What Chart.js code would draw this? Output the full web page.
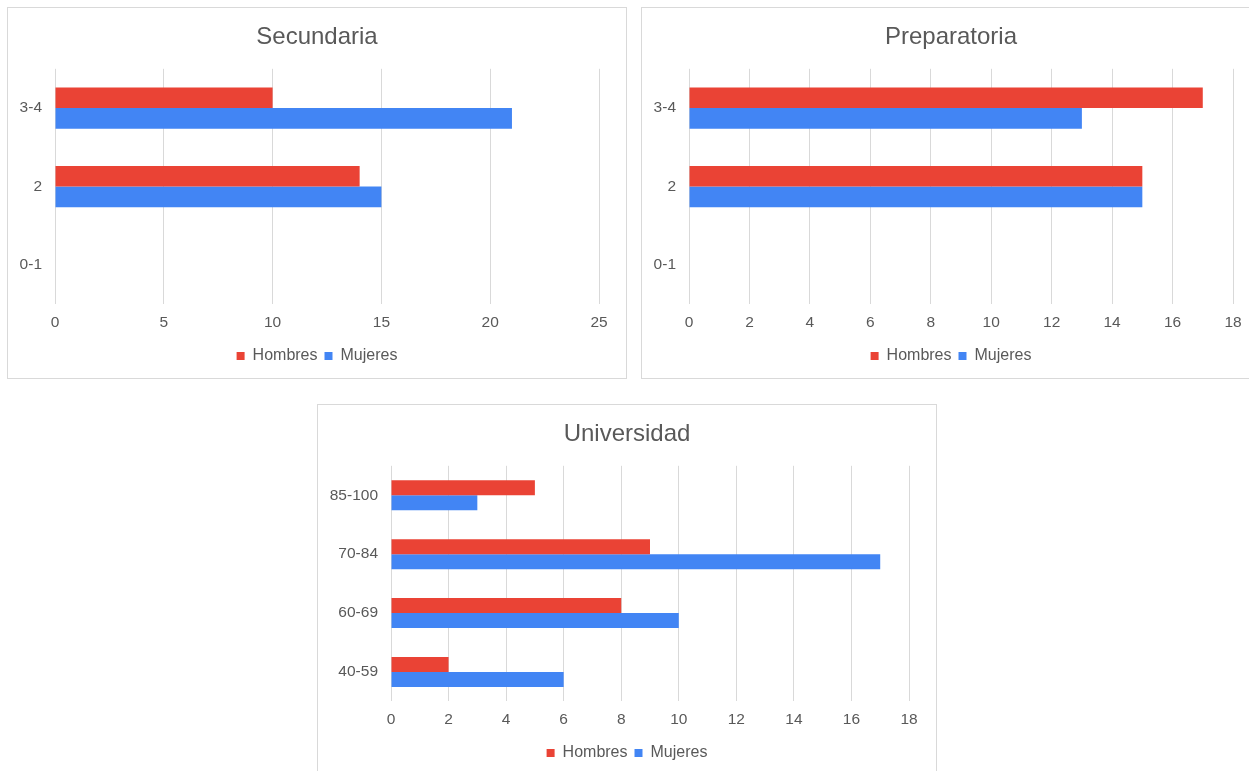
<!DOCTYPE html>
<html>
<head>
<meta charset="utf-8">
<script src="https://cdn.jsdelivr.net/npm/chart.js@4/dist/chart.umd.min.js"></script>
<style>
    html, body { margin: 0; padding: 0; background: #fff; overflow: hidden; }
    body { width: 1249px; height: 771px; position: relative; }
    .panel {
        position: absolute;
        box-sizing: border-box;
        width: 620px;
        height: 372px;
        border: 1px solid #d9d9d9;
        background: #fff;
    }
    .panel canvas { display: block; }
</style>
</head>
<body>
<div class="panel" style="left: 7px; top: 7px;"><canvas id="secundaria"></canvas></div>
<div class="panel" style="left: 641px; top: 7px;"><canvas id="preparatoria"></canvas></div>
<div class="panel" style="left: 317px; top: 404px;"><canvas id="universidad"></canvas></div>
<script>
const seriesNames = ['Hombres', 'Mujeres'];

const secundariaLabels = ['3-4', '2', '0-1'];
const secundariaHombres = [10, 14, 0];
const secundariaMujeres = [21, 15, 0];

const preparatoriaLabels = ['3-4', '2', '0-1'];
const preparatoriaHombres = [17, 15, 0];
const preparatoriaMujeres = [13, 15, 0];

const universidadLabels = ['85-100', '70-84', '60-69', '40-59'];
const universidadHombres = [5, 9, 8, 2];
const universidadMujeres = [3, 17, 10, 6];

const RED = '#ea4335';
const BLUE = '#4285f4';
const TEXT = '#595959';
const GRID = '#d9d9d9';
const FONT = 'Arial, "Liberation Sans", sans-serif';

// no layout padding on the sides so title and legend stay centred on the panel;
// the right gap comes from the x axis padding instead
const drawPanel = (id, title, labels, hombres, mujeres, max, step, catPct, axisWidth) => {
    const canvas = document.getElementById(id);

    new Chart(canvas, {
        type: 'bar',
        data: {
            labels: labels,
            datasets: [
                {
                    label: seriesNames[0],
                    data: hombres,
                    backgroundColor: RED,
                    borderWidth: 0,
                },
                {
                    label: seriesNames[1],
                    data: mujeres,
                    backgroundColor: BLUE,
                    borderWidth: 0,
                },
            ],
        },
        options: {
            indexAxis: 'y',
            responsive: false,
            animation: false,
            categoryPercentage: catPct,
            barPercentage: 1,
            layout: {
                padding: { left: 0, right: 0, top: 0, bottom: 4 },
            },
            plugins: {
                title: {
                    display: true,
                    text: title,
                    color: TEXT,
                    font: { family: FONT, size: 24, weight: 'normal' },
                    padding: { top: 15, bottom: 17 },
                },
                legend: {
                    position: 'bottom',
                    labels: {
                        color: TEXT,
                        boxWidth: 8,
                        boxHeight: 8,
                        padding: 7,
                        font: { family: FONT, size: 16 },
                    },
                },
                tooltip: { enabled: false },
            },
            scales: {
                x: {
                    min: 0,
                    max: max,
                    border: { display: false },
                    grid: {
                        color: GRID,
                        drawTicks: false,
                    },
                    ticks: {
                        stepSize: step,
                        color: TEXT,
                        padding: 9,
                        font: { family: FONT, size: 15.5 },
                    },
                    afterFit: (scale) => {
                        scale.paddingRight = 27;
                    },
                },
                y: {
                    border: { display: false },
                    grid: { display: false, drawTicks: false },
                    ticks: {
                        color: TEXT,
                        padding: 13,
                        font: { family: FONT, size: 15.5 },
                    },
                    afterFit: (scale) => {
                        scale.width = axisWidth;
                    },
                },
            },
        },
    });
};

// canvases fill the inside of each bordered panel
document.querySelectorAll('.panel canvas').forEach((c) => {
    c.width = 618;
    c.height = 370;
});

drawPanel('secundaria', 'Secundaria', secundariaLabels, secundariaHombres, secundariaMujeres, 25, 5, 0.526, 47);
drawPanel('preparatoria', 'Preparatoria', preparatoriaLabels, preparatoriaHombres, preparatoriaMujeres, 18, 2, 0.526, 47);
drawPanel('universidad', 'Universidad', universidadLabels, universidadHombres, universidadMujeres, 18, 2, 0.51, 73);
</script>
</body>
</html>
